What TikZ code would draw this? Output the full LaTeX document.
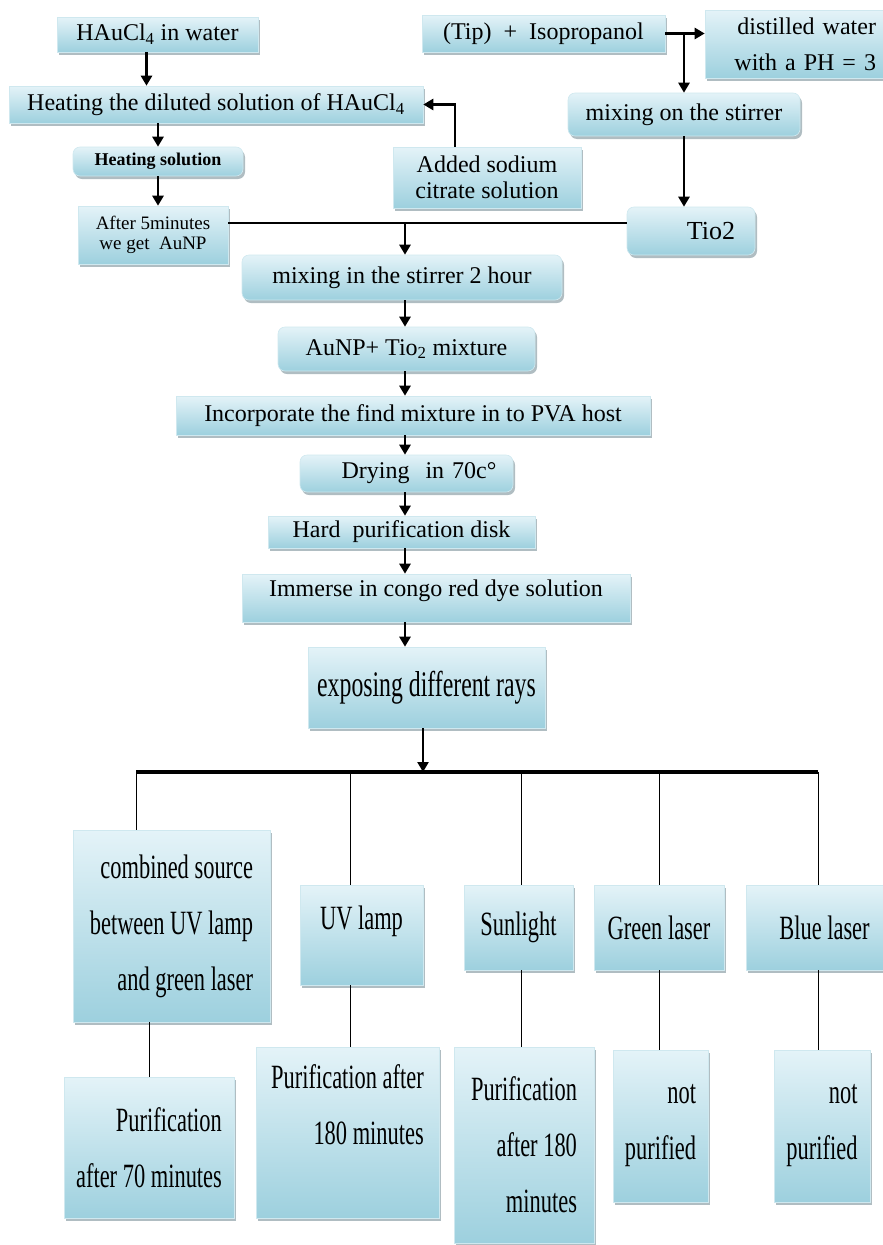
\documentclass[tikz,border=0pt]{standalone}
\usepackage{fontspec}
\setmainfont{Liberation Serif}
\newfontfamily\narrowserif[FakeStretch=0.66]{Liberation Serif}
\usetikzlibrary{arrows.meta,shadows}

\definecolor{boxtop}{HTML}{E4F3F8}
\definecolor{boxbot}{HTML}{9DD0DE}
\definecolor{boxedge}{HTML}{CFE8EF}
\definecolor{shadegray}{HTML}{A7B6BB}

\begin{document}
\begin{tikzpicture}[x=1pt, y=-1pt]
        \tikzstyle{box}=[rectangle, top color=boxtop, bottom color=boxbot, draw=boxedge, line width=0.6pt,
            drop shadow={shadow xshift=2pt, shadow yshift=-3pt, fill=shadegray, opacity=0.9},
            inner sep=0pt, align=center, font=\fontsize{24}{26}\selectfont]
        \tikzstyle{rbox}=[box, rounded corners=7pt]
        \tikzstyle{raybox}=[box, align=right, font=\narrowserif\fontsize{34}{56}\selectfont]
        \tikzstyle{arr}=[-{Triangle[length=10pt,width=11pt]}, line width=2.5pt]
        \tikzstyle{wire}=[line width=0.8pt]

        \useasboundingbox (0,0) rectangle (883,1245);

        \node[box, minimum width=201, minimum height=35] (hau)  at (157.5,34.5) {HAuCl\textsubscript{4} in water};
        \node[box, minimum width=414, minimum height=37] (heat) at (216,104.5) {Heating the diluted solution of HAuCl\textsubscript{4}};
        \node[rbox, minimum width=170, minimum height=29, font=\bfseries\fontsize{18}{20}\selectfont] (hsol) at (158,161.5) {Heating solution};
        \node[box, minimum width=150, minimum height=58, font=\fontsize{19}{20}\selectfont] (after) at (153,235) {After 5minutes\\ we get~~AuNP};

        \node[box, minimum width=243, minimum height=37] (tip) at (543.5,33.5) {(Tip)~~+~~Isopropanol};
        \node[box, minimum width=178, minimum height=68, text width=164, align=right, font=\fontsize{24}{36}\selectfont] (dw) at (794,44) {distilled water\\ with a PH = 3};
        \node[rbox, minimum width=232, minimum height=43] (mixa) at (684,114.5) {mixing on the stirrer};
        \node[box, minimum width=188, minimum height=61] (added) at (487,177.5) {Added sodium\\ citrate solution};
        \node[rbox, minimum width=128, minimum height=48, text width=88, align=right, font=\fontsize{26}{28}\selectfont] (tio) at (691,231) {Tio2};

        \node[rbox, minimum width=320, minimum height=45] (mixb) at (402,277.5) {mixing in the stirrer 2 hour};
        \node[rbox, minimum width=257, minimum height=44] (aunp) at (406.5,349) {AuNP+ Tio\textsubscript{2} mixture};
        \node[box, minimum width=474, minimum height=39] (inc)  at (413,415.5) {Incorporate the find mixture in to PVA host};
        \node[rbox, minimum width=213, minimum height=37, text width=180, align=right] (dry) at (406.5,473.5) {Drying~~in 70c°};
        \node[box, minimum width=267, minimum height=32] (hard) at (401.5,532) {Hard~~purification disk};
        \node[box, minimum width=388, minimum height=48, text depth=20pt] (imm)  at (436,598) {Immerse in congo red dye solution};
        \node[box, minimum width=237, minimum height=81, font=\narrowserif\fontsize{36}{38}\selectfont] (expo) at (426.5,687.5) {exposing different rays};

        \node[raybox, minimum width=197, minimum height=192] (comb)  at (171.5,926) {combined source\\ between UV lamp\\ and green laser};
        \node[raybox, minimum width=123, minimum height=100, text depth=34pt] (uv) at (361.5,935) {UV lamp};
        \node[raybox, minimum width=109, minimum height=85]  (sun)   at (518.5,927.5) {Sunlight};
        \node[raybox, minimum width=130, minimum height=85]  (green) at (659,927.5) {Green laser};
        \node[raybox, minimum width=137, minimum height=85]  (blue)  at (814.5,927.5) {\hspace{20pt}Blue laser};

        \node[raybox, minimum width=170, minimum height=141] (pa) at (149,1147.5) {Purification\\ after 70 minutes};
        \node[raybox, minimum width=183, minimum height=171] (pb) at (347.5,1132.5) {Purification after\\ 180 minutes\\ ~};
        \node[raybox, minimum width=140, minimum height=196] (pc) at (524,1145) {Purification\\ after 180\\ minutes};
        \node[raybox, minimum width=95, minimum height=152]  (pd) at (660.5,1126) {not\\ purified};
        \node[raybox, minimum width=96, minimum height=152]  (pe) at (822,1126) {not\\ purified};

        \coordinate (jn) at (405,223);
        \coordinate (bm) at (423,772);
        \coordinate (bl) at (136,772);
        \coordinate (b2) at (350,772);
        \coordinate (b3) at (521,772);
        \coordinate (b4) at (659,772);
        \coordinate (br) at (818,772);

        \draw[arr] ([xshift=-11pt]hau.south) -- ([xshift=-11pt]hau.south |- heat.north);
        \draw[arr] (heat.south -| hsol) -- (hsol.north);
        \draw[arr] (hsol.south) -- (hsol.south |- after.north);

        \draw[arr] (tip.east) -- (tip.east -| dw.west);
        \draw[arr] (tip.east -| mixa) -- (mixa.north);
        \draw[arr] (mixa.south) -- (mixa.south |- tio.north);
        \draw[arr] ([xshift=-32pt]added.north) |- (heat.east);

        \draw[line width=2.5pt] (after.east |- jn) -- (tio.west |- jn);
        \draw[arr] (jn) -- (mixb.north -| jn);
        \foreach \a/\b in {mixb/aunp, aunp/inc, inc/dry, dry/hard, hard/imm, imm/expo}
            \draw[arr] (\a.south -| jn) -- (\b.north -| jn);

        \draw[arr] (expo.south -| bm) -- (bm);
        \draw[line width=4.5pt] (bl) -- (br);

        \draw[wire] (bl) -- (bl |- comb.north);
        \draw[wire] (b2) -- (b2 |- uv.north);
        \draw[wire] (b3) -- (b3 |- sun.north);
        \draw[wire] (b4) -- (b4 |- green.north);
        \draw[wire] (br) -- (br |- blue.north);

        \draw[wire] (comb.south -| pa) -- (pa.north);
        \draw[wire] (uv.south -| b2) -- (pb.north -| b2);
        \draw[wire] (sun.south -| b3) -- (pc.north -| b3);
        \draw[wire] (green.south) -- (green.south |- pd.north);
        \draw[wire] (blue.south -| br) -- (pe.north -| br);
    \end{tikzpicture}
\end{document}
